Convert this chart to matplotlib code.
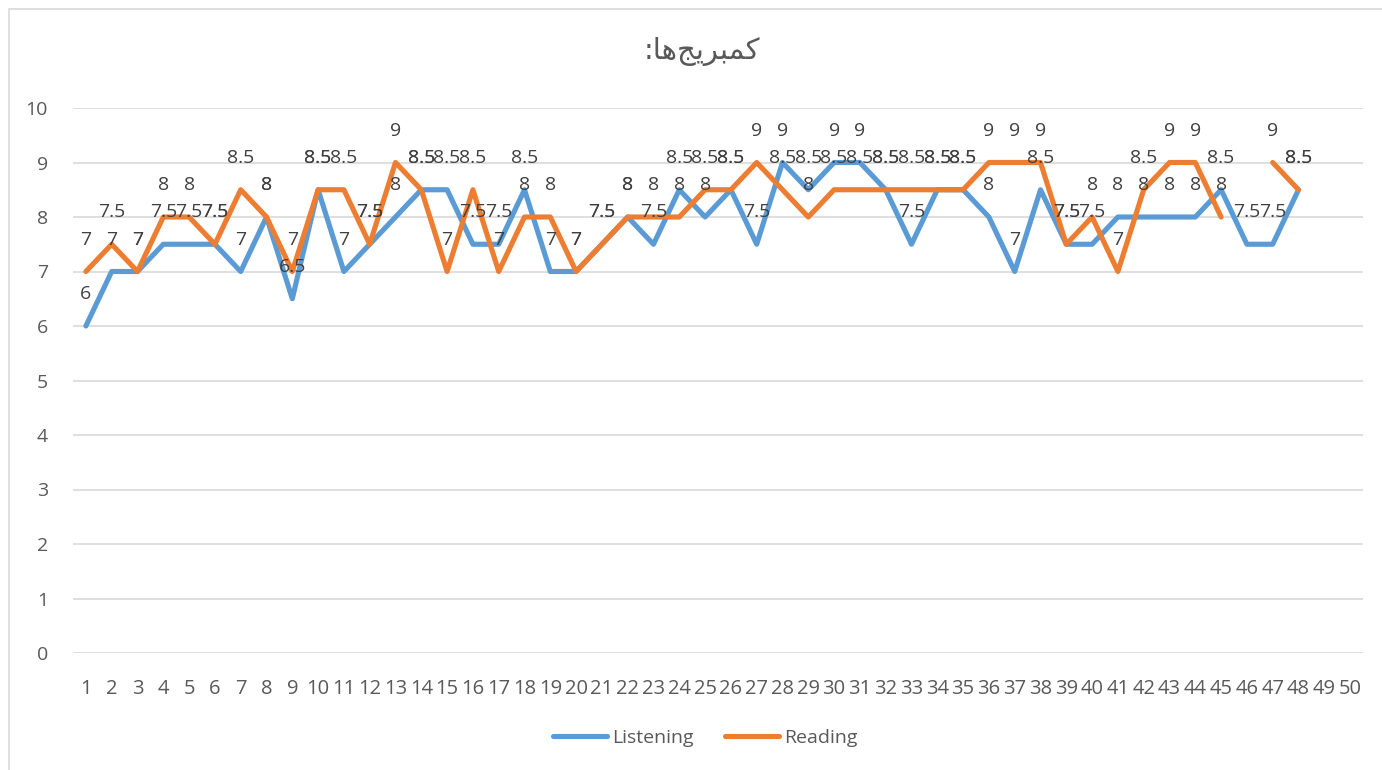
import numpy as np
import matplotlib
matplotlib.use("Agg")
import matplotlib.pyplot as plt
from matplotlib.patches import Rectangle

plt.rcParams['font.family'] = ['Open Sans', 'DejaVu Sans']

# data
categories = list(range(1, 51))
listening = [6, 7, 7, 7.5, 7.5, 7.5, 7, 8, 6.5, 8.5,
             7, 7.5, 8, 8.5, 8.5, 7.5, 7.5, 8.5, 7, 7,
             7.5, 8, 7.5, 8.5, 8, 8.5, 7.5, 9, 8.5, 9,
             9, 8.5, 7.5, 8.5, 8.5, 8, 7, 8.5, 7.5, 7.5,
             8, 8, 8, 8, 8.5, 7.5, 7.5, 8.5]
reading = [7, 7.5, 7, 8, 8, 7.5, 8.5, 8, 7, 8.5,
           8.5, 7.5, 9, 8.5, 7, 8.5, 7, 8, 8, 7,
           7.5, 8, 8, 8, 8.5, 8.5, 9, 8.5, 8, 8.5,
           8.5, 8.5, 8.5, 8.5, 8.5, 9, 9, 9, 7.5, 8,
           7, 8.5, 9, 9, 8, np.nan, 9, 8.5]
series_names = ["Listening", "Reading"]
colors = ["#5B9BD5", "#ED7D31"]

# title "کمبریج‌ها:" pre-shaped (presentation forms, visual order) since matplotlib has no bidi/shaping
title = ":" + "\uFE8E\uFEEB\uFE9E\uFBFE\uFEAE\uFE92\uFEE4\uFB90"

fig = plt.figure(figsize=(13.82, 7.70), dpi=100)
ax = fig.add_axes([73 / 1382, 117 / 770, 1290 / 1382, 545 / 770])

x_list = categories[:len(listening)]
for name, vals, c, z in [(series_names[0], listening, colors[0], 3),
                         (series_names[1], reading, colors[1], 4)]:
    ax.plot(x_list, vals, color=c, lw=3.7, label=name, zorder=z,
            solid_capstyle='round', solid_joinstyle='round')

for vals in (listening, reading):
    for x, v in zip(x_list, vals):
        if np.isnan(v):
            continue
        ax.annotate(f"{v:g}", (x, v), xytext=(0, 23), textcoords='offset points',
                    ha='center', va='center', fontsize=14, color='#404040', zorder=6)

ax.set_xlim(0.5, 50.5)
ax.set_ylim(0, 10)
ax.set_yticks(range(0, 11))
ax.set_xticks(categories)
ax.set_xticklabels([str(c) for c in categories])
ax.tick_params(axis='both', length=0, labelsize=14, colors='#595959')
ax.tick_params(axis='x', labelsize=14.5)
ax.tick_params(axis='y', pad=18)
ax.tick_params(axis='x', pad=19)
ax.grid(axis='y', color='#d9d9d9', lw=1.2)
ax.set_axisbelow(True)
for s in ax.spines.values():
    s.set_visible(False)

fig.text(702 / 1382, 1 - 51 / 770, title, ha='center', va='center', fontsize=21,
         color='#595959', family=['DejaVu Sans'])

fig.legend(loc='center', bbox_to_anchor=(705 / 1382, 1 - 738 / 770), ncol=2, frameon=False,
           fontsize=14, handlelength=2.8, handletextpad=0.25, columnspacing=1.6,
           labelcolor='#595959')

fig.patches.append(Rectangle((9 / 1382, -0.1), 1.2, 1.1 - 9 / 770, transform=fig.transFigure,
                             fill=False, edgecolor='#d9d9d9', lw=1.2))

fig.savefig("out.png", dpi=100)
